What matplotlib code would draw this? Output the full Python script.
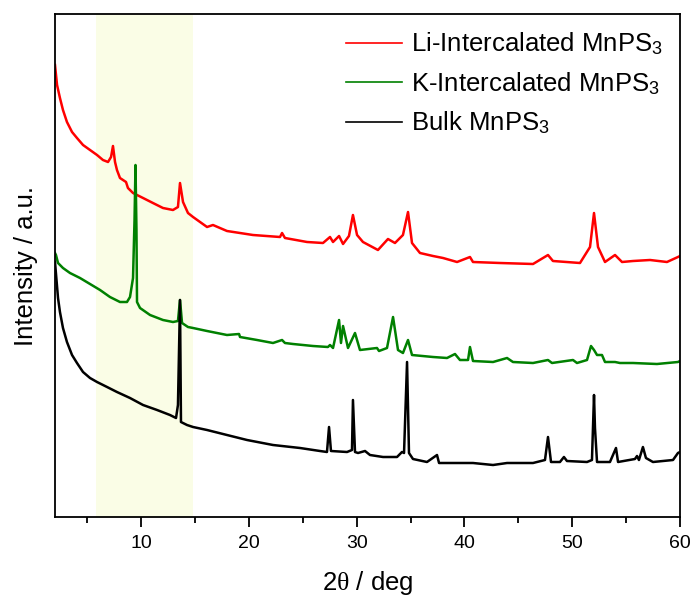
import matplotlib
matplotlib.use("Agg")
import matplotlib.pyplot as plt
from matplotlib.ticker import MultipleLocator

plt.rcParams['font.family'] = ['Liberation Sans', 'DejaVu Sans']
plt.rcParams['mathtext.fontset'] = 'custom'
plt.rcParams['mathtext.rm'] = 'Liberation Sans'
plt.rcParams['mathtext.it'] = 'Liberation Serif'

# XRD traces (2theta in deg, intensity in arbitrary units)
li_tth = [2.00, 2.19, 2.46, 2.74, 3.11, 3.58, 4.04, 4.60, 5.25, 5.90, 6.45, 6.92,
          7.20, 7.38, 7.57, 7.75, 8.03, 8.59, 8.77, 9.24, 10.17, 11.09, 12.02,
          12.95, 13.41, 13.60, 13.88, 14.34, 14.81, 16.11, 16.66, 17.96, 20.37,
          22.88, 23.07, 23.34, 25.39, 26.87, 27.52, 27.80, 28.36, 28.73, 29.28,
          29.65, 30.03, 30.58, 31.97, 32.90, 33.55, 34.29, 34.76, 35.13, 35.87,
          37.08, 38.01, 39.31, 40.51, 40.79, 43.30, 46.36, 47.75, 48.21, 50.72,
          51.65, 52.02, 52.39, 53.04, 53.97, 54.62, 55.64, 57.22, 58.79, 59.81,
          60.00]
li_int = [452, 432, 419, 407, 395, 385, 379, 372, 367, 362, 357, 355,
          360, 371, 355, 347, 339, 335, 329, 324, 319, 314, 309,
          307, 310, 334, 315, 304, 300, 290, 292, 286, 282,
          280, 284, 279, 275, 274, 280, 275, 281, 273, 281,
          302, 282, 275, 267, 278, 274, 282, 305, 274, 264,
          261, 259, 255, 260, 255, 254, 253, 262, 256, 254,
          270, 304, 270, 255, 262, 255, 256, 257, 255, 260,
          261]

k_tth = [2.00, 2.09, 2.28, 2.74, 3.39, 4.32, 5.25, 6.18, 7.10, 8.03, 8.68, 8.96,
         9.24, 9.38, 9.47, 9.56, 9.61, 9.89, 10.82, 12.02, 12.95, 13.41, 13.60,
         13.79, 14.34, 14.81, 16.11, 17.96, 19.08, 19.17, 20.75, 22.23, 23.07,
         23.34, 24.09, 25.94, 27.33, 27.52, 27.80, 28.36, 28.54, 28.73, 29.19,
         29.84, 30.30, 31.88, 32.07, 32.81, 33.37, 33.83, 34.29, 34.76, 35.13,
         37.08, 38.38, 39.12, 39.58, 40.33, 40.51, 40.79, 42.65, 43.95, 44.50,
         46.36, 47.75, 48.12, 50.07, 50.44, 51.37, 51.74, 52.02, 52.30, 52.76,
         53.04, 53.97, 54.43, 55.64, 57.86, 59.81, 60.00]
k_int = [264, 262, 254, 249, 244, 239, 233, 227, 220, 215, 215, 220,
         239, 297, 352, 287, 215, 209, 202, 197, 195, 196, 217,
         194, 190, 189, 186, 182, 183, 180, 177, 174, 177,
         174, 173, 171, 170, 172, 169, 197, 174, 191, 169,
         184, 167, 169, 166, 169, 200, 167, 164, 177, 162,
         160, 159, 163, 157, 157, 170, 156, 155, 159, 155,
         154, 157, 154, 157, 154, 157, 171, 167, 162, 162,
         155, 155, 154, 154, 153, 155, 156]

bulk_tth = [2.00, 2.28, 2.46, 2.74, 3.11, 3.58, 4.04, 4.60, 5.25, 5.90, 6.83,
            7.75, 8.96, 10.17, 11.47, 12.67, 13.23, 13.41, 13.60, 13.69, 14.25,
            14.81, 16.11, 17.96, 19.82, 22.23, 24.74, 26.59, 27.24, 27.43, 27.61,
            29.10, 29.56, 29.65, 29.84, 30.12, 30.77, 31.23, 32.44, 33.74, 34.20,
            34.39, 34.67, 34.85, 35.22, 36.52, 37.45, 37.64, 38.66, 40.79, 42.65,
            43.95, 46.36, 47.47, 47.75, 48.03, 48.86, 49.23, 49.51, 51.37, 51.83,
            52.02, 52.11, 52.30, 53.50, 54.06, 54.25, 55.82, 56.01, 56.19, 56.56,
            56.84, 57.49, 59.35, 59.81, 60.00]
bulk_int = [255, 219, 205, 189, 175, 162, 154, 145, 139, 135, 130,
            125, 119, 112, 107, 102, 99, 112, 217, 95, 92,
            90, 87, 82, 77, 72, 69, 66, 65, 90, 66,
            65, 67, 117, 65, 64, 66, 62, 60, 60, 65,
            64, 155, 64, 58, 55, 62, 54, 54, 54, 52,
            54, 54, 57, 80, 55, 55, 60, 56, 55, 57,
            122, 89, 55, 55, 69, 55, 58, 61, 57, 70,
            59, 55, 57, 64, 65]

labels = ['Li-Intercalated MnPS$_3$', 'K-Intercalated MnPS$_3$', 'Bulk MnPS$_3$']
colors = ['#ff0000', '#008000', '#000000']
span = (5.8, 14.8)

fig = plt.figure(figsize=(6.96, 6.03), dpi=100)
ax = fig.add_axes([55 / 696, 86 / 603, 625 / 696, 503 / 603])

ax.axvspan(*span, color='#fafde6', lw=0, zorder=0)
ax.plot(li_tth, li_int, color=colors[0], lw=1.8, label=labels[0])
ax.plot(k_tth, k_int, color=colors[1], lw=1.8, label=labels[1])
ax.plot(bulk_tth, bulk_int, color=colors[2], lw=1.8, label=labels[2])

ax.set_xlim(2, 60)
ax.set_ylim(0, 503)
ax.xaxis.set_major_locator(MultipleLocator(10))
ax.xaxis.set_minor_locator(MultipleLocator(5))
ax.set_yticks([])
ax.tick_params(axis='x', which='major', direction='out', length=7, width=1.3,
               labelsize=14, pad=6)
ax.tick_params(axis='x', which='minor', direction='out', length=4, width=1.3)
for s in ax.spines.values():
    s.set_linewidth(1.3)

ax.set_xlabel(r'2$\mathit{\theta}$ / deg', fontsize=18.5, labelpad=12)
ax.set_ylabel('Intensity / a.u.', fontsize=18.5, labelpad=12)

leg = ax.legend(loc='upper right', bbox_to_anchor=(1.0, 1.0), frameon=False,
                fontsize=18.5, handlelength=2.2, handletextpad=0.35,
                labelspacing=0.5, borderaxespad=0.25)
for h in leg.legend_handles:
    h.set_linewidth(1.2)

fig.savefig('out.png', dpi=100)
